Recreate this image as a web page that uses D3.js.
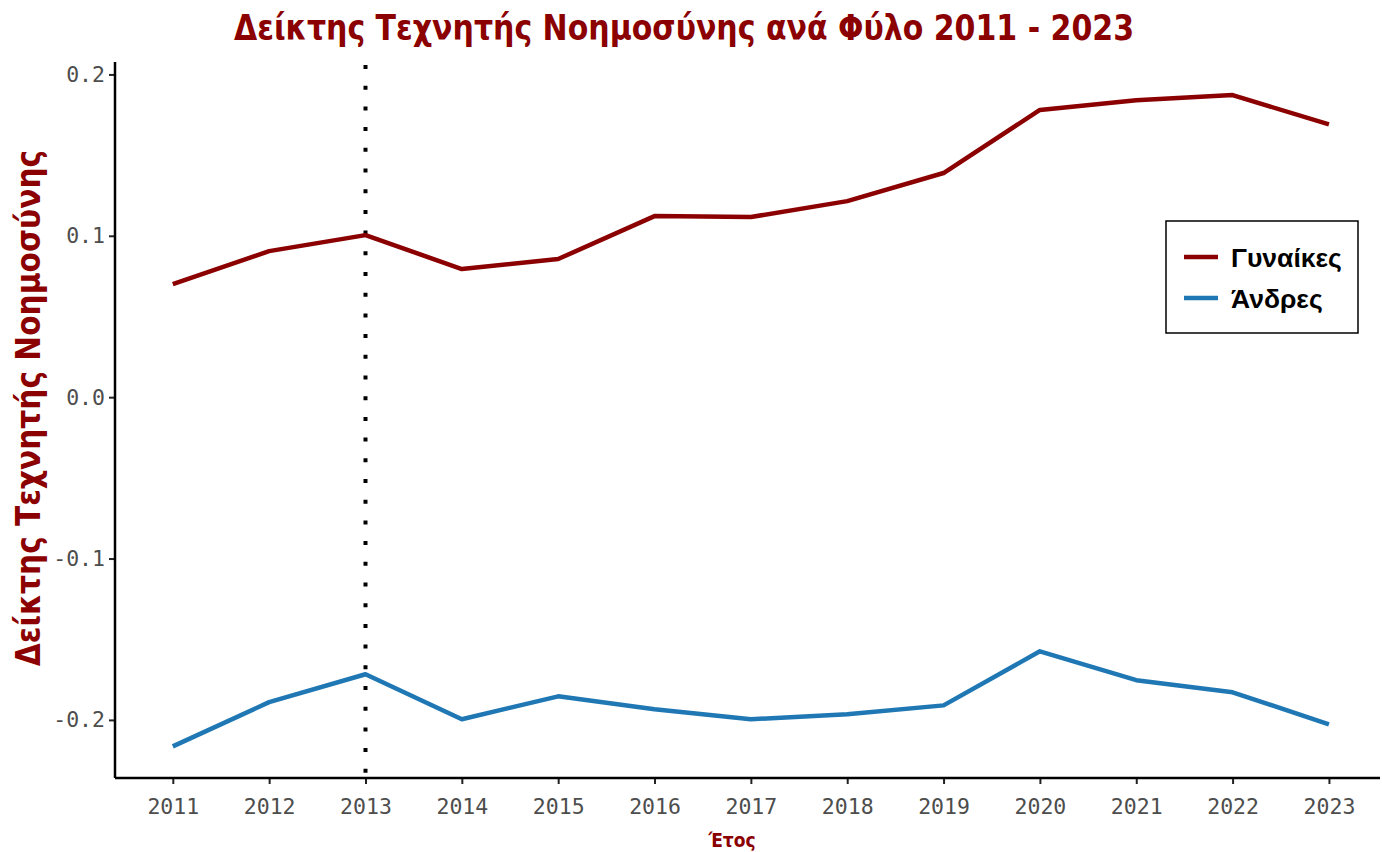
<!DOCTYPE html>
<html>
<head>
<meta charset="utf-8">
<script src="https://cdn.jsdelivr.net/npm/d3@7"></script>
<style>
  body { margin: 0; background: #fff; }
  .title { font-family: "Liberation Sans Narrow", "DejaVu Sans", sans-serif; font-stretch: condensed; font-weight: bold; fill: #8b0000; }
</style>
</head>
<body>
<svg id="chart" width="1382" height="852"></svg>
<script>
// years and index values
const years = [2011, 2012, 2013, 2014, 2015, 2016, 2017, 2018, 2019, 2020, 2021, 2022, 2023];
const women = [0.070, 0.0905, 0.1004, 0.0794, 0.0856, 0.1122, 0.1116, 0.1215, 0.1389, 0.178, 0.184, 0.1872, 0.169];
const men = [-0.2164, -0.189, -0.1717, -0.1996, -0.1854, -0.1934, -0.1996, -0.1965, -0.191, -0.1575, -0.1754, -0.1829, -0.2027];
const yTicks = [-0.2, -0.1, 0.0, 0.1, 0.2];
const markYear = 2013;

const seriesNames = ["Γυναίκες", "Άνδρες"];
const seriesColors = ["#8b0000", "#1f77b4"];

const svg = d3.select("#chart");
const margin = { top: 62, right: 2, bottom: 74, left: 115 };
const width = +svg.attr("width");
const height = +svg.attr("height");
const innerWidth = width - margin.left - margin.right;
const innerHeight = height - margin.top - margin.bottom;

const xScale = d3.scaleLinear()
  .domain([2010.4, 2023.53])
  .range([0, innerWidth]);

const yScale = d3.scaleLinear()
  .domain([-0.236, 0.2077])
  .range([innerHeight, 0]);

const g = svg.append("g")
  .attr("transform", `translate(${margin.left},${margin.top})`);

// axes
const xAxisG = g.append("g")
  .attr("transform", `translate(0,${innerHeight})`)
  .call(d3.axisBottom(xScale).tickValues(years).tickFormat(d3.format("d")).tickSize(6).tickPadding(15));
const yAxisG = g.append("g")
  .call(d3.axisLeft(yScale).tickValues(yTicks).tickSize(6).tickPadding(4)
    .tickFormat((d) => d3.format(".1f")(d).replace("−", "-")));

[xAxisG, yAxisG].forEach((ax) => {
  ax.attr("font-size", 21.5).attr("font-family", "DejaVu Sans Mono, monospace");
  ax.select(".domain").remove();
  ax.selectAll(".tick line").attr("stroke", "#222").attr("stroke-width", 2);
  ax.selectAll(".tick text").attr("fill", "#4d4d4d");
});

g.append("line")
  .attr("x1", 0).attr("x2", innerWidth)
  .attr("y1", innerHeight).attr("y2", innerHeight)
  .attr("stroke", "#000").attr("stroke-width", 2.5);
g.append("line")
  .attr("x1", 0).attr("x2", 0)
  .attr("y1", 0).attr("y2", innerHeight)
  .attr("stroke", "#000").attr("stroke-width", 2.5);

// dotted marker line
g.append("line")
  .attr("x1", xScale(markYear)).attr("x2", xScale(markYear))
  .attr("y1", 3).attr("y2", innerHeight)
  .attr("stroke", "#000").attr("stroke-width", 4)
  .attr("stroke-dasharray", "4,16.7");

// series lines
const line = d3.line()
  .x((d) => xScale(d[0]))
  .y((d) => yScale(d[1]));

[women, men].forEach((vals, i) => {
  g.append("path")
    .datum(years.map((y, j) => [y, vals[j]]))
    .attr("fill", "none")
    .attr("stroke", seriesColors[i])
    .attr("stroke-width", 4.5)
    .attr("stroke-linejoin", "round")
    .attr("d", line);
});

// titles
svg.append("text")
  .attr("class", "title")
  .attr("x", 684).attr("y", 40)
  .attr("text-anchor", "middle")
  .attr("font-size", 35)
  .attr("textLength", 900)
  .attr("lengthAdjust", "spacingAndGlyphs")
  .text("Δείκτης  Τεχνητής  Νοημοσύνης  ανά  Φύλο  2011 - 2023");

svg.append("text")
  .attr("class", "title")
  .attr("transform", "translate(40,408) rotate(-90)")
  .attr("text-anchor", "middle")
  .attr("font-size", 33)
  .text("Δείκτης Τεχνητής Νοημοσύνης");

svg.append("text")
  .attr("class", "title")
  .attr("x", 732).attr("y", 847)
  .attr("text-anchor", "middle")
  .attr("font-size", 19)
  .text("Έτος");

// legend
const legend = svg.append("g").attr("transform", "translate(1166,221)");
legend.append("rect")
  .attr("width", 192).attr("height", 112)
  .attr("fill", "#fff").attr("stroke", "#000").attr("stroke-width", 1.5);
seriesNames.forEach((name, i) => {
  const row = legend.append("g").attr("transform", `translate(0,${36 + i * 41})`);
  row.append("line")
    .attr("x1", 18).attr("x2", 52)
    .attr("stroke", seriesColors[i]).attr("stroke-width", 4.5);
  row.append("text")
    .attr("x", 65).attr("y", 9.5)
    .attr("font-family", "Liberation Sans, Arial, sans-serif")
    .attr("font-weight", "bold")
    .attr("font-size", 26.5)
    .text(name);
});
</script>
</body>
</html>
